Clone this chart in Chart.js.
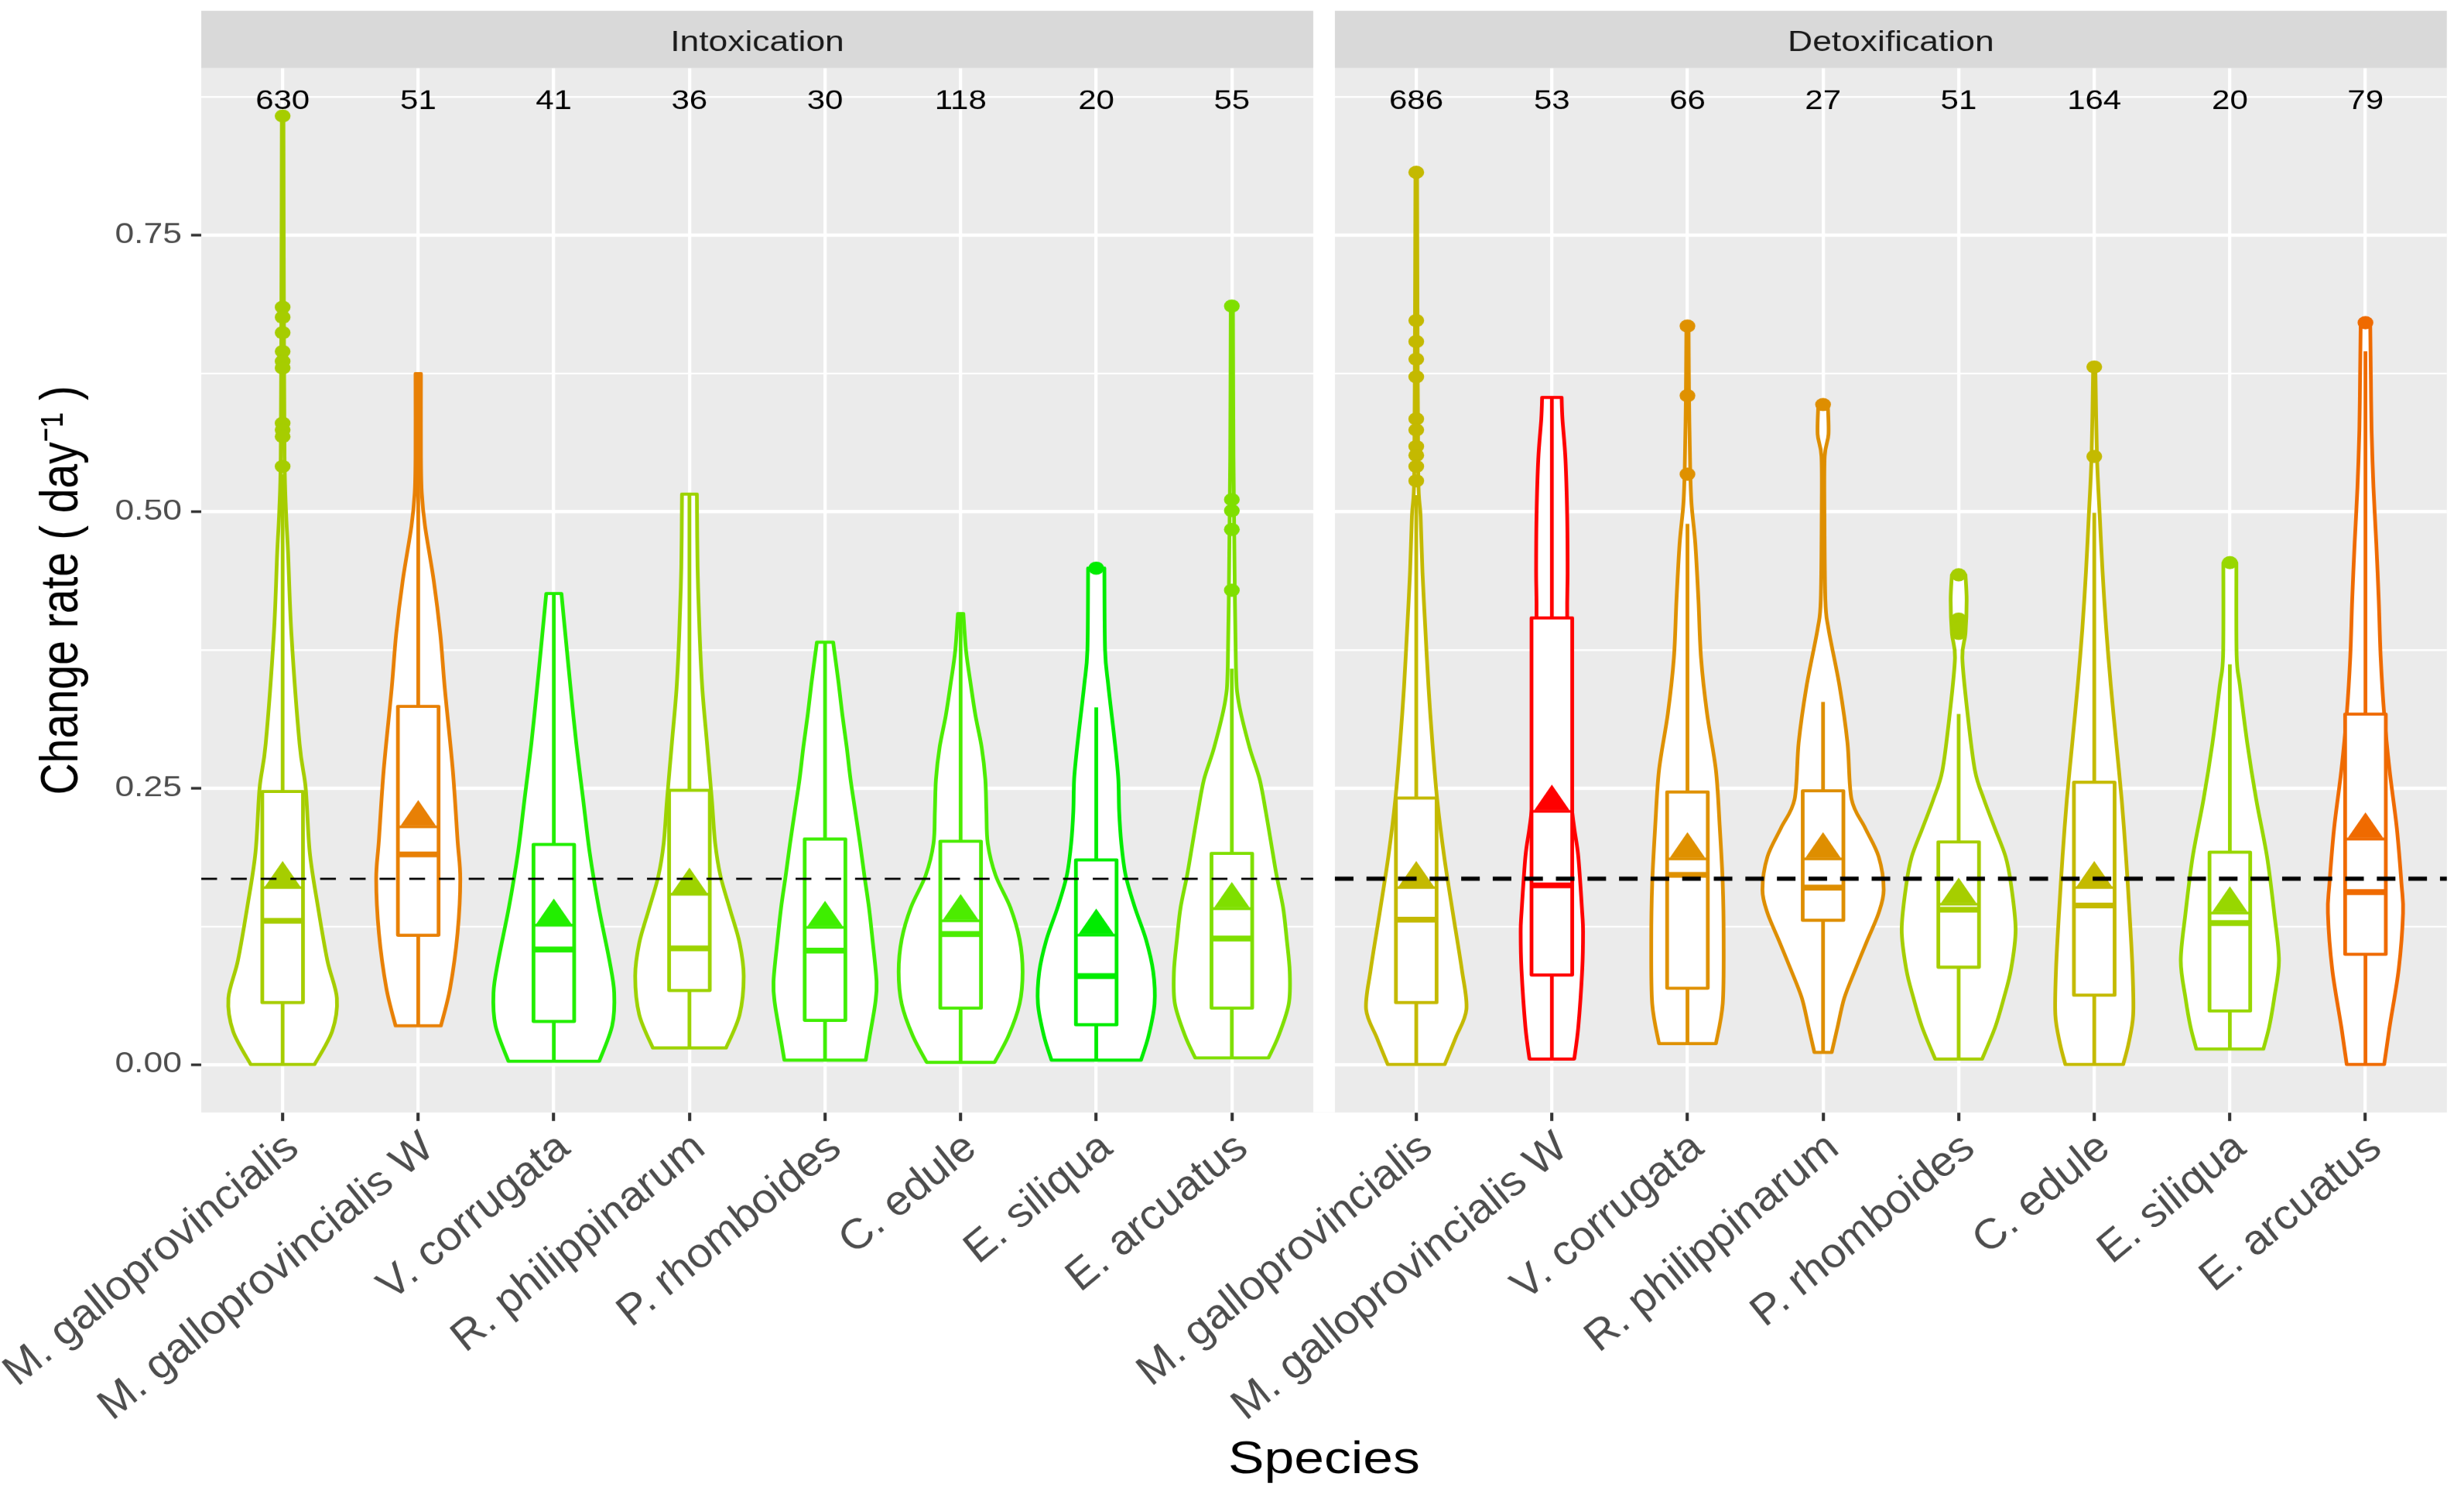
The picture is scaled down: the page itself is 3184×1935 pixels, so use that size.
<!DOCTYPE html>
<html>
<head>
<meta charset="utf-8">
<title>Change rate by species</title>
<script src="https://cdn.jsdelivr.net/npm/chart.js@4.4.1/dist/chart.umd.min.js"></script>
<style>
  html, body { margin: 0; padding: 0; background: #ffffff; overflow: hidden; }
  #wrap { position: absolute; left: 0; top: 0; width: 2654px; height: 1935px;
          transform: scaleX(1.19970); transform-origin: 0 0; }
</style>
</head>
<body>
<div id="wrap"><canvas id="chart" width="2654" height="1935"></canvas></div>
<script>
const species = ['M. galloprovincialis', 'M. galloprovincialis W', 'V. corrugata', 'R. philippinarum',
  'P. rhomboides', 'C. edule', 'E. siliqua', 'E. arcuatus'];
const panelTitles = ['Intoxication', 'Detoxification'];
const yTickValues = [0, 0.25, 0.5, 0.75];
const yMinorValues = [0.125, 0.375, 0.625, 0.875];
const thresholdValue = 0.168;
const countLabelY = 0.875;

// sample sizes
const intoxN = [630, 51, 41, 36, 30, 118, 20, 55];
const detoxN = [686, 53, 66, 27, 51, 164, 20, 79];

// box statistics, intoxication
const intoxQ1 = [0.056, 0.117, 0.039, 0.067, 0.040, 0.051, 0.036, 0.051];
const intoxMedian = [0.130, 0.190, 0.104, 0.105, 0.103, 0.118, 0.080, 0.114];
const intoxQ3 = [0.247, 0.324, 0.199, 0.248, 0.204, 0.202, 0.185, 0.191];
const intoxLow = [0.0, 0.035, 0.003, 0.015, 0.004, 0.002, 0.004, 0.006];
const intoxHigh = [0.534, 0.625, 0.426, 0.516, 0.382, 0.408, 0.323, 0.358];
const intoxMean = [0.160, 0.215, 0.126, 0.154, 0.124, 0.130, 0.117, 0.141];
const intoxOutliers = [
  [0.858, 0.685, 0.676, 0.662, 0.645, 0.636, 0.630, 0.580, 0.574, 0.568, 0.541],
  [], [], [], [], [], [0.449], [0.429, 0.484, 0.501, 0.511, 0.686]
];

// box statistics, detoxification
const detoxQ1 = [0.056, 0.081, 0.069, 0.1305, 0.088, 0.0627, 0.0484, 0.0997];
const detoxMedian = [0.131, 0.162, 0.1716, 0.160, 0.140, 0.1438, 0.128, 0.156];
const detoxQ3 = [0.241, 0.404, 0.2466, 0.2476, 0.2014, 0.2553, 0.192, 0.317];
const detoxLow = [0.0, 0.005, 0.019, 0.011, 0.005, 0.0, 0.014, 0.0];
const detoxHigh = [0.515, 0.6035, 0.489, 0.328, 0.317, 0.499, 0.362, 0.645];
const detoxMean = [0.160, 0.229, 0.186, 0.186, 0.145, 0.160, 0.137, 0.204];
const detoxOutliers = [
  [0.807, 0.673, 0.654, 0.638, 0.622, 0.584, 0.574, 0.559, 0.551, 0.541, 0.528],
  [], [0.668, 0.605, 0.534], [0.597], [0.443, 0.403, 0.395, 0.390], [0.631, 0.550], [0.454], [0.671]
];

// violin outlines: heights and half widths (in category units)
const intoxViolinY = [
  [0.0, 0.03, 0.06, 0.094, 0.143, 0.192, 0.25, 0.29, 0.389, 0.463, 0.5, 0.55, 0.7, 0.858],
  [0.035, 0.069, 0.119, 0.168, 0.203, 0.266, 0.34, 0.389, 0.438, 0.487, 0.517, 0.55, 0.625],
  [0.003, 0.035, 0.065, 0.094, 0.143, 0.192, 0.241, 0.29, 0.34, 0.389, 0.426],
  [0.015, 0.045, 0.08, 0.11, 0.14, 0.17, 0.2, 0.24, 0.29, 0.34, 0.39, 0.45, 0.516],
  [0.004, 0.026, 0.055, 0.075, 0.113, 0.142, 0.171, 0.2, 0.229, 0.258, 0.287, 0.316, 0.345, 0.382],
  [0.002, 0.026, 0.055, 0.084, 0.113, 0.142, 0.171, 0.2, 0.229, 0.258, 0.287, 0.316, 0.345, 0.374, 0.408],
  [0.004, 0.026, 0.055, 0.084, 0.113, 0.142, 0.171, 0.2, 0.229, 0.258, 0.287, 0.316, 0.345, 0.375, 0.449],
  [0.006, 0.026, 0.055, 0.084, 0.113, 0.142, 0.171, 0.2, 0.229, 0.258, 0.287, 0.328, 0.36, 0.45, 0.55, 0.686]
];
const intoxViolinW = [
  [0.235, 0.365, 0.40, 0.33, 0.26, 0.20, 0.17, 0.125, 0.065, 0.04, 0.025, 0.014, 0.009, 0.006],
  [0.167, 0.235, 0.29, 0.31, 0.29, 0.255, 0.196, 0.163, 0.114, 0.05, 0.026, 0.02, 0.02],
  [0.335, 0.43, 0.445, 0.41, 0.33, 0.264, 0.215, 0.166, 0.124, 0.085, 0.056],
  [0.27, 0.37, 0.40, 0.37, 0.30, 0.23, 0.19, 0.165, 0.13, 0.095, 0.075, 0.06, 0.055],
  [0.30, 0.33, 0.37, 0.38, 0.35, 0.324, 0.29, 0.258, 0.223, 0.188, 0.16, 0.128, 0.10, 0.06],
  [0.25, 0.353, 0.435, 0.457, 0.435, 0.367, 0.258, 0.2, 0.19, 0.182, 0.155, 0.109, 0.073, 0.04, 0.02],
  [0.33, 0.386, 0.43, 0.42, 0.367, 0.285, 0.217, 0.185, 0.169, 0.163, 0.141, 0.114, 0.087, 0.065, 0.06],
  [0.27, 0.345, 0.42, 0.427, 0.405, 0.378, 0.33, 0.29, 0.25, 0.205, 0.13, 0.05, 0.03, 0.02, 0.012, 0.008]
];
const detoxViolinY = [
  [0.0, 0.024, 0.05, 0.086, 0.137, 0.188, 0.24, 0.291, 0.342, 0.394, 0.445, 0.496, 0.53, 0.65, 0.807],
  [0.005, 0.034, 0.086, 0.12, 0.137, 0.188, 0.214, 0.24, 0.3, 0.404, 0.445, 0.496, 0.548, 0.584, 0.6035],
  [0.019, 0.055, 0.112, 0.164, 0.215, 0.266, 0.317, 0.368, 0.42, 0.471, 0.507, 0.54, 0.6, 0.668],
  [0.011, 0.034, 0.06, 0.086, 0.112, 0.137, 0.158, 0.188, 0.214, 0.24, 0.291, 0.342, 0.394, 0.42, 0.5, 0.55, 0.57, 0.597],
  [0.005, 0.034, 0.06, 0.086, 0.122, 0.163, 0.188, 0.214, 0.24, 0.266, 0.317, 0.368, 0.39, 0.42, 0.443],
  [0.0, 0.019, 0.045, 0.086, 0.137, 0.188, 0.24, 0.291, 0.343, 0.394, 0.446, 0.497, 0.55, 0.631],
  [0.014, 0.034, 0.06, 0.094, 0.137, 0.188, 0.24, 0.291, 0.343, 0.37, 0.454],
  [0.0, 0.034, 0.086, 0.137, 0.163, 0.214, 0.266, 0.317, 0.369, 0.42, 0.471, 0.522, 0.574, 0.62, 0.671]
];
const detoxViolinW = [
  [0.21, 0.29, 0.37, 0.336, 0.27, 0.206, 0.154, 0.119, 0.09, 0.067, 0.046, 0.032, 0.015, 0.01, 0.006],
  [0.165, 0.195, 0.224, 0.23, 0.224, 0.195, 0.165, 0.142, 0.125, 0.113, 0.116, 0.113, 0.10, 0.078, 0.072],
  [0.21, 0.26, 0.267, 0.26, 0.238, 0.21, 0.145, 0.10, 0.081, 0.058, 0.03, 0.02, 0.012, 0.008],
  [0.064, 0.107, 0.156, 0.238, 0.325, 0.41, 0.447, 0.41, 0.31, 0.21, 0.18, 0.122, 0.04, 0.017, 0.01, 0.012, 0.04, 0.035],
  [0.173, 0.27, 0.333, 0.386, 0.42, 0.386, 0.346, 0.266, 0.186, 0.12, 0.066, 0.027, 0.05, 0.059, 0.05],
  [0.213, 0.253, 0.287, 0.282, 0.26, 0.234, 0.202, 0.162, 0.122, 0.088, 0.061, 0.04, 0.02, 0.008],
  [0.247, 0.29, 0.327, 0.362, 0.327, 0.274, 0.194, 0.128, 0.074, 0.05, 0.048],
  [0.138, 0.178, 0.245, 0.277, 0.266, 0.231, 0.178, 0.138, 0.112, 0.098, 0.08, 0.059, 0.045, 0.04, 0.035]
];

const intoxColours = ['#A6CD00', '#E88005', '#22EE00', '#9DD300', '#3EEE00', '#4CEC00', '#00EC00', '#7FDF00'];
const detoxColours = ['#C4B900', '#FF0000', '#DF9100', '#DE8E00', '#A6CE00', '#C4BA00', '#98D700', '#EF6A00'];

const panels = [
  { title: panelTitles[0], n: intoxN, q1: intoxQ1, med: intoxMedian, q3: intoxQ3, lo: intoxLow, hi: intoxHigh,
    mean: intoxMean, out: intoxOutliers, vy: intoxViolinY, vw: intoxViolinW, col: intoxColours },
  { title: panelTitles[1], n: detoxN, q1: detoxQ1, med: detoxMedian, q3: detoxQ3, lo: detoxLow, hi: detoxHigh,
    mean: detoxMean, out: detoxOutliers, vy: detoxViolinY, vw: detoxViolinW, col: detoxColours }
];

// layout of the two facets on one linear x axis
const EXPAND = 0.6;
const GAP = 0.16;
const PANEL_STEP = species.length - 1 + 2 * EXPAND + GAP;
const BOX_HALF = 0.15;
const catX = (p, i) => p * PANEL_STEP + i;
const xTickValues = [];
panels.forEach((p, pi) => species.forEach((s, i) => xTickValues.push(catX(pi, i))));

const outlierPoints = [];
const outlierColours = [];
panels.forEach((p, pi) => p.out.forEach((list, i) => list.forEach((v) => {
  outlierPoints.push({ x: catX(pi, i), y: v });
  outlierColours.push(p.col[i]);
})));

const isMajor = (v) => yTickValues.some((t) => Math.abs(t - v) < 1e-9);

function smoothSide(ctx, pts, move) {
  const k = 0.16;
  pts.forEach((p, i) => {
    if (i === 0) {
      if (move) ctx.moveTo(p[0], p[1]); else ctx.lineTo(p[0], p[1]);
      return;
    }
    const p0 = pts[Math.max(i - 2, 0)];
    const p1 = pts[i - 1];
    const p3 = pts[Math.min(i + 1, pts.length - 1)];
    ctx.bezierCurveTo(p1[0] + (p[0] - p0[0]) * k, p1[1] + (p[1] - p0[1]) * k,
      p[0] - (p3[0] - p1[0]) * k, p[1] - (p3[1] - p1[1]) * k, p[0], p[1]);
  });
}

function hLine(ctx, x1, x2, y) {
  ctx.beginPath();
  ctx.moveTo(x1, y);
  ctx.lineTo(x2, y);
  ctx.stroke();
}

const facetPlugin = {
  id: 'facets',
  beforeDraw(chart) {
    const { ctx, chartArea: a } = chart;
    ctx.save();
    ctx.fillStyle = '#FFFFFF';
    ctx.fillRect(0, 0, chart.width, chart.height);
    ctx.fillStyle = '#EBEBEB';
    ctx.fillRect(a.left, a.top, a.right - a.left, a.bottom - a.top);
    ctx.restore();
  },
  beforeDatasetsDraw(chart) {
    const { ctx, chartArea: a } = chart;
    const xs = chart.scales.x;
    const ys = chart.scales.y;
    const stripH = 74;
    ctx.save();
    // white gutter between the facets
    const g1 = xs.getPixelForValue(species.length - 1 + EXPAND);
    const g2 = xs.getPixelForValue(PANEL_STEP - EXPAND);
    ctx.fillStyle = '#FFFFFF';
    ctx.fillRect(g1, a.top - stripH - 2, g2 - g1, a.bottom - a.top + stripH + 2);
    // strips
    panels.forEach((p, pi) => {
      const l = xs.getPixelForValue(catX(pi, 0) - EXPAND);
      const r = xs.getPixelForValue(catX(pi, species.length - 1) + EXPAND);
      ctx.fillStyle = '#D9D9D9';
      ctx.fillRect(l, a.top - stripH, r - l, stripH);
      ctx.fillStyle = '#1A1A1A';
      ctx.font = "37px 'Liberation Sans', Arial, sans-serif";
      ctx.textAlign = 'center';
      ctx.textBaseline = 'middle';
      ctx.fillText(p.title, (l + r) / 2, a.top - stripH / 2 + 5);
    });
    ctx.beginPath();
    ctx.rect(a.left, a.top, a.right - a.left, a.bottom - a.top);
    ctx.clip();
    ctx.lineJoin = 'round';
    panels.forEach((p, pi) => {
      species.forEach((s, i) => {
        const c = catX(pi, i);
        const colour = p.col[i];
        const vy = p.vy[i];
        const vw = p.vw[i];
        // violin
        const right = vy.map((v, k) => [xs.getPixelForValue(c + vw[k]), ys.getPixelForValue(v)]);
        const left = vy.map((v, k) => [xs.getPixelForValue(c - vw[k]), ys.getPixelForValue(v)]).reverse();
        ctx.beginPath();
        smoothSide(ctx, right, true);
        smoothSide(ctx, left, false);
        ctx.closePath();
        ctx.fillStyle = '#FFFFFF';
        ctx.fill();
        ctx.strokeStyle = colour;
        ctx.lineWidth = 4;
        ctx.stroke();
        // whiskers
        const cx = xs.getPixelForValue(c);
        ctx.lineWidth = 4;
        ctx.beginPath();
        ctx.moveTo(cx, ys.getPixelForValue(p.lo[i]));
        ctx.lineTo(cx, ys.getPixelForValue(p.q1[i]));
        ctx.moveTo(cx, ys.getPixelForValue(p.q3[i]));
        ctx.lineTo(cx, ys.getPixelForValue(p.hi[i]));
        ctx.stroke();
        // box
        const bl = xs.getPixelForValue(c - BOX_HALF);
        const br = xs.getPixelForValue(c + BOX_HALF);
        const bt = ys.getPixelForValue(p.q3[i]);
        const bb = ys.getPixelForValue(p.q1[i]);
        ctx.fillStyle = '#FFFFFF';
        ctx.fillRect(bl, bt, br - bl, bb - bt);
        ctx.lineWidth = 4;
        ctx.strokeRect(bl, bt, br - bl, bb - bt);
        ctx.lineWidth = 7.5;
        ctx.lineCap = 'butt';
        hLine(ctx, bl, br, ys.getPixelForValue(p.med[i]));
      });
    });
    ctx.restore();
  },
  afterDatasetsDraw(chart) {
    const { ctx } = chart;
    const xs = chart.scales.x;
    const ys = chart.scales.y;
    ctx.save();
    panels.forEach((p, pi) => {
      species.forEach((s, i) => {
        const c = catX(pi, i);
        const colour = p.col[i];
        const cx = xs.getPixelForValue(c);
        const my = ys.getPixelForValue(p.mean[i]);
        ctx.strokeStyle = colour;
        ctx.lineWidth = 3.4;
        hLine(ctx, xs.getPixelForValue(c - BOX_HALF), xs.getPixelForValue(c + BOX_HALF), my);
        ctx.fillStyle = colour;
        ctx.beginPath();
        ctx.moveTo(cx - 19, my - 1.5);
        ctx.lineTo(cx + 19, my - 1.5);
        ctx.lineTo(cx, my - 34.5);
        ctx.closePath();
        ctx.fill();
        // counts
        ctx.fillStyle = '#000000';
        ctx.font = "35px 'Liberation Sans', Arial, sans-serif";
        ctx.textAlign = 'center';
        ctx.textBaseline = 'middle';
        ctx.fillText(String(p.n[i]), cx, ys.getPixelForValue(countLabelY) + 6);
      });
      // reference line
      const l = xs.getPixelForValue(catX(pi, 0) - EXPAND);
      const r = xs.getPixelForValue(catX(pi, species.length - 1) + EXPAND);
      ctx.strokeStyle = '#000000';
      ctx.lineWidth = pi === 0 ? 2.6 : 5.4;
      ctx.setLineDash(pi === 0 ? [17, 15] : [20, 14]);
      hLine(ctx, l, r, ys.getPixelForValue(thresholdValue));
      ctx.setLineDash([]);
    });
    ctx.restore();
  }
};

Chart.defaults.font.family = "'Liberation Sans', Arial, sans-serif";

new Chart(document.getElementById('chart'), {
  type: 'scatter',
  data: {
    datasets: [{
      data: outlierPoints,
      pointBackgroundColor: outlierColours,
      pointBorderWidth: 0,
      pointRadius: 8.5,
      pointHoverRadius: 8.5
    }]
  },
  options: {
    responsive: false,
    devicePixelRatio: 1.2,
    animation: false,
    layout: { padding: { top: 88, right: 19.2, bottom: 0, left: 0 } },
    plugins: { legend: { display: false }, tooltip: { enabled: false } },
    scales: {
      x: {
        type: 'linear',
        min: -EXPAND,
        max: PANEL_STEP + species.length - 1 + EXPAND,
        afterBuildTicks: (s) => { s.ticks = xTickValues.map((v) => ({ value: v })); },
        afterFit: (s) => { s.height = 497; s.paddingLeft = 0; s.paddingRight = 0; },
        border: { display: false },
        grid: { color: '#FFFFFF', lineWidth: 3.6, tickColor: '#333333', tickLength: 11, tickWidth: 3.4 },
        ticks: {
          autoSkip: false,
          minRotation: 45,
          maxRotation: 45,
          padding: 6,
          labelOffset: 11,
          color: '#4D4D4D',
          font: { size: 51, style: 'italic' },
          callback: (v, i) => species[i % species.length]
        },
        title: { display: true, text: 'Species', color: '#000000', font: { size: 58 },
                 padding: { top: 0, bottom: 12 } }
      },
      y: {
        min: -0.0434,
        max: 0.9013,
        afterBuildTicks: (s) => {
          s.ticks = yTickValues.concat(yMinorValues).sort((m, n) => m - n).map((v) => ({ value: v }));
        },
        afterFit: (s) => { s.width = 216.7; s.paddingTop = 0; s.paddingBottom = 0; },
        border: { display: false },
        grid: {
          color: '#FFFFFF',
          lineWidth: (ctx) => (isMajor(ctx.tick.value) ? 4.4 : 2.2),
          tickColor: (ctx) => (isMajor(ctx.tick.value) ? '#333333' : 'rgba(0,0,0,0)'),
          tickLength: 11,
          tickWidth: 3.4
        },
        ticks: {
          padding: 10,
          color: '#4D4D4D',
          font: { size: 37 },
          callback: (v) => (isMajor(v) ? v.toFixed(2) : '')
        },
        title: { display: true, text: 'Change rate ( day\u207B\u00B9 )', color: '#000000', font: { size: 57 },
                 padding: { top: 33, bottom: 0 } }
      }
    }
  },
  plugins: [facetPlugin]
});
</script>
</body>
</html>
